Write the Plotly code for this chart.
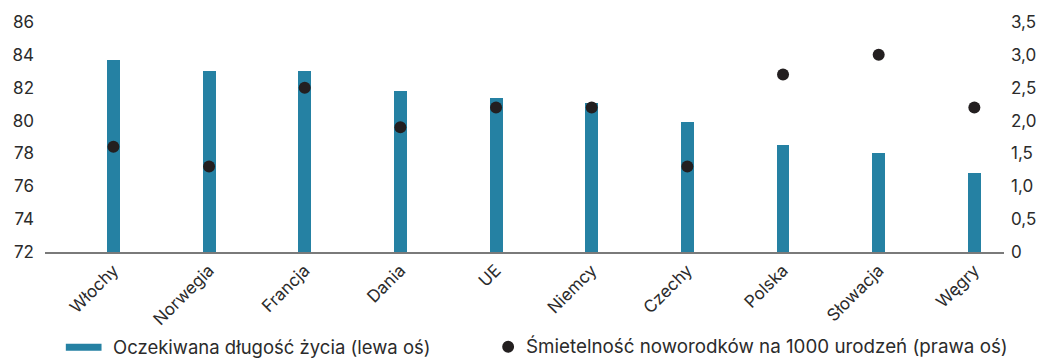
import plotly.graph_objects as go

countries = ["Włochy", "Norwegia", "Francja", "Dania", "UE", "Niemcy", "Czechy", "Polska", "Słowacja", "Węgry"]
life_expectancy = [83.7, 83.0, 83.0, 81.8, 81.4, 81.1, 79.9, 78.5, 78.0, 76.8]
infant_mortality = [1.6, 1.3, 2.5, 1.9, 2.2, 2.2, 1.3, 2.7, 3.0, 2.2]

left_ticks = [72, 74, 76, 78, 80, 82, 84, 86]
right_ticks = [0, 0.5, 1.0, 1.5, 2.0, 2.5, 3.0, 3.5]
right_tick_text = ["0", "0,5", "1,0", "1,5", "2,0", "2,5", "3,0", "3,5"]

bar_label = "Oczekiwana długość życia (lewa oś)"
dot_label = "Śmietelność noworodków na 1000 urodzeń (prawa oś)"

BAR_COLOR = "#2581a3"
DOT_COLOR = "#231f20"
TEXT_COLOR = "#2b2b2b"
FONT = "Inter, Open Sans, sans-serif"

x_idx = list(range(len(countries)))

fig = go.Figure()
fig.add_trace(go.Bar(
    x=x_idx, y=[v - 72 for v in life_expectancy], base=72,
    width=0.135, marker=dict(color=BAR_COLOR, line=dict(width=0)),
    name=bar_label, showlegend=False, yaxis="y",
))
fig.add_trace(go.Scatter(
    x=x_idx, y=infant_mortality, mode="markers",
    marker=dict(color=DOT_COLOR, size=12),
    name=dot_label, showlegend=False, yaxis="y2",
))

fig.update_layout(
    width=1049, height=360,
    margin=dict(l=43, r=39, t=19, b=108),
    paper_bgcolor="white", plot_bgcolor="white",
    font=dict(family=FONT, size=17, color=TEXT_COLOR),
    xaxis=dict(
        range=[-0.715, 9.31], tickvals=x_idx, ticktext=countries,
        tickangle=-45, showgrid=False, zeroline=False,
        showline=True, linecolor="#7a7a7a", linewidth=1.5,
        ticks="", tickfont=dict(size=17, color=TEXT_COLOR),
    ),
    yaxis=dict(
        range=[72, 86], tickvals=left_ticks, showgrid=False, zeroline=False,
        showline=False, ticks="", ticklabelstandoff=10,
        tickfont=dict(size=17, color=TEXT_COLOR),
    ),
    yaxis2=dict(
        range=[0, 3.5], tickvals=right_ticks, ticktext=right_tick_text,
        overlaying="y", side="right", showgrid=False, zeroline=False,
        showline=False, ticks="", ticklabelstandoff=6,
        tickfont=dict(size=17, color=TEXT_COLOR),
    ),
    bargap=0,
)

# Legend drawn beneath the chart
LEGEND_Y = 348
fig.add_shape(type="rect", xref="paper", yref="paper",
              x0=(64 - 43) / 967, x1=(100 - 43) / 967,
              y0=(252 - (LEGEND_Y + 4)) / 233, y1=(252 - (LEGEND_Y - 3)) / 233,
              fillcolor=BAR_COLOR, line=dict(width=0))
fig.add_annotation(xref="paper", yref="paper", x=(110 - 43) / 967, y=(252 - LEGEND_Y) / 233,
                   text=bar_label, showarrow=False, xanchor="left", yanchor="middle",
                   font=dict(size=18.5, color=TEXT_COLOR))
fig.add_shape(type="circle", xref="paper", yref="paper",
              x0=(504 - 43) / 967, x1=(516 - 43) / 967,
              y0=(252 - (LEGEND_Y + 6)) / 233, y1=(252 - (LEGEND_Y - 6)) / 233,
              fillcolor=DOT_COLOR, line=dict(width=0))
fig.add_annotation(xref="paper", yref="paper", x=(526 - 43) / 967, y=(252 - LEGEND_Y) / 233,
                   text=dot_label, showarrow=False, xanchor="left", yanchor="middle",
                   font=dict(size=18.8, color=TEXT_COLOR))

fig.write_html("out.html")
